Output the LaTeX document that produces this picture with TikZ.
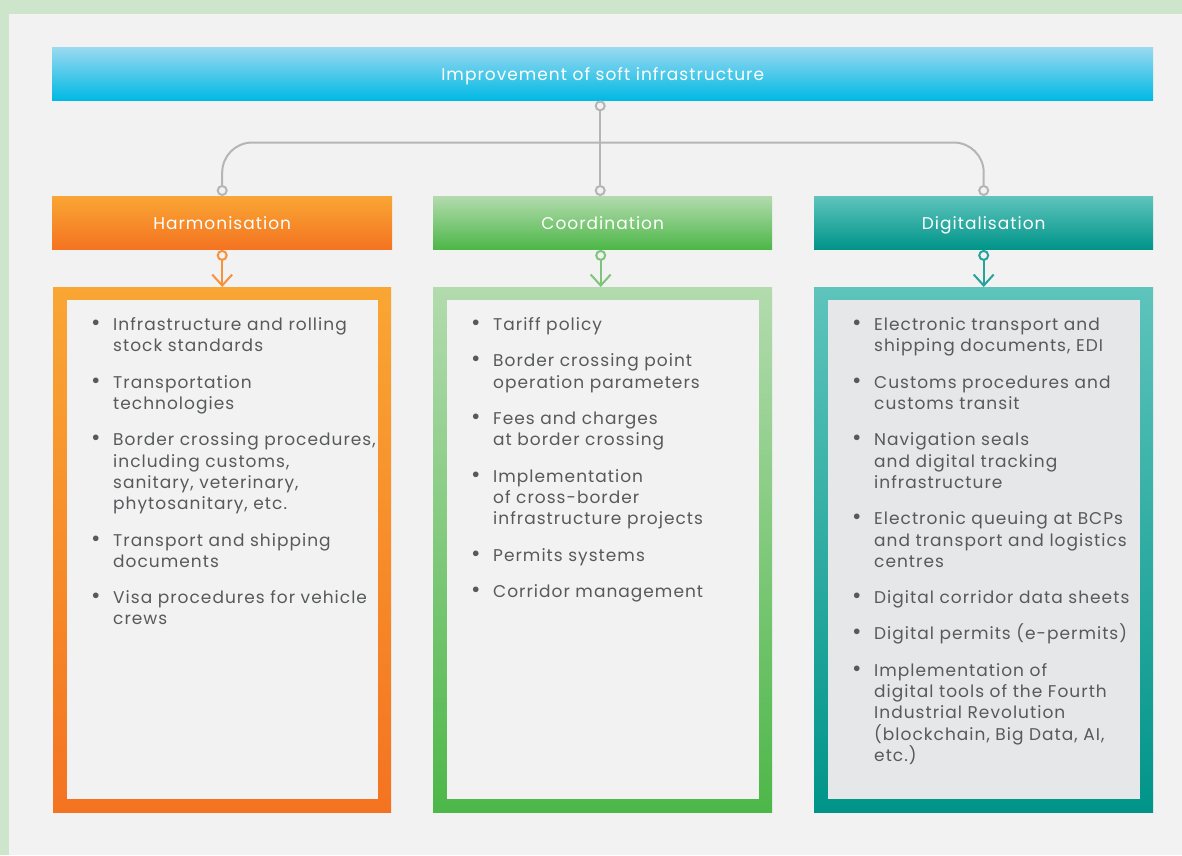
\documentclass[tikz,border=0pt]{standalone}
\usepackage{fontspec}
\setmainfont{Poppins}[LetterSpace=6]
\usetikzlibrary{calc,arrows.meta}
\definecolor{bandgreen}{HTML}{CDE6CB}
\definecolor{bg}{HTML}{F2F2F2}
\definecolor{tealin}{HTML}{E6E7E8}
\definecolor{blueA}{HTML}{9AD9F0}
\definecolor{blueB}{HTML}{00B9E4}
\definecolor{orA}{HTML}{F9A634}
\definecolor{orB}{HTML}{F47321}
\definecolor{grA}{HTML}{B3DBAE}
\definecolor{grB}{HTML}{4DB748}
\definecolor{teA}{HTML}{5EC4BC}
\definecolor{teB}{HTML}{009489}
\definecolor{cgray}{HTML}{B5B5B5}
\definecolor{orArrow}{HTML}{F7923A}
\definecolor{grArrow}{HTML}{7DC57A}
\definecolor{teArrow}{HTML}{23A39A}
\definecolor{txt}{HTML}{58595B}
\newcommand{\bl}{\makebox[22pt][l]{\scalebox{1.35}{\textbullet}}}
\newcommand{\ind}{\hspace*{22pt}}
\begin{document}
\begin{tikzpicture}[x=1pt,y=-1pt,
  bar/.style={anchor=north west, inner sep=0pt, text=white,
    text height=13.6pt, text depth=0pt,
    font={\fontsize{17}{20}\selectfont}},
  hdr/.style={bar, minimum height=53pt},
  frame/.style={anchor=north west, inner sep=0pt, minimum height=525pt},
  inbox/.style={inner sep=0pt, minimum height=499pt},
  listtext/.style={anchor=north west, inner sep=0pt, align=left, text=txt,
    font={\fontsize{17}{21.3}\selectfont}},
  conn/.style={draw=cgray, line width=2pt},
  ring/.style={line width=2pt, fill=bg},
  down/.style={line width=2pt, -{Straight Barb[length=11pt,width=20pt]}}
]
\useasboundingbox (0,0) rectangle (1182,855);
\fill[bandgreen] (0,0) rectangle (1182,855);
\fill[bg] (9,14) rectangle (1182,855);

% top bar
\node[bar, minimum width=1101pt, minimum height=53pt, top color=blueA, bottom color=blueB] (top) at (52,47) {Improvement of soft infrastructure};

% headers
\node[hdr, minimum width=340pt, top color=orA, bottom color=orB] (h1) at (52,196) {Harmonisation};
\node[hdr, minimum width=339pt, top color=grA, bottom color=grB] (h2) at (433,196) {Coordination};
\node[hdr, minimum width=339pt, top color=teA, bottom color=teB] (h3) at (814,196) {Digitalisation};

% frames
\node[frame, minimum width=338pt, top color=orA, bottom color=orB] (b1) at (53,287) {};
\node[frame, minimum width=339pt, top color=grA, bottom color=grB] (b2) at (433,287) {};
\node[frame, minimum width=339pt, top color=teA, bottom color=teB] (b3) at (814,287) {};
\node[inbox, minimum width=311pt, fill=bg] (i1) at (b1.center) {};
\node[inbox, minimum width=312pt, fill=bg] (i2) at (b2.center) {};
\node[inbox, minimum width=312pt, fill=tealin] (i3) at (b3.center) {};

% connectors from the top bar
\coordinate (tc) at ($(top.south)+(-2.5,5.5)$);
\coordinate (c1) at ($(h1.north)+(0,-5.5)$);
\coordinate (c2) at ($(h2.north)+(-2.5,-5.5)$);
\coordinate (c3) at ($(h3.north)+(0,-5.5)$);
\draw[conn] (tc) -- (c2);
\draw[conn, rounded corners=30pt] (c1) -- ++(0,-48) -| (c3);
\draw[conn, ring] (tc) circle (4.5pt);
\draw[conn, ring] (c2) circle (4.5pt);
\draw[conn, ring] (c1) circle (4.5pt);
\draw[conn, ring] (c3) circle (4.5pt);

% arrows to the frames
\coordinate (d1) at ($(h1.south)+(0,6)$);
\coordinate (d2) at ($(h2.south)+(-2,6)$);
\coordinate (d3) at ($(h3.south)+(0,6)$);
\draw[down, draw=orArrow] ($(d1)+(0,4.5)$) -- (d1 |- b1.north);
\draw[down, draw=grArrow] ($(d2)+(0,4.5)$) -- (d2 |- b2.north);
\draw[down, draw=teArrow] ($(d3)+(0,4.5)$) -- (d3 |- b3.north);
\draw[ring, draw=orArrow] (d1) circle (4.5pt);
\draw[ring, draw=grArrow] (d2) circle (4.5pt);
\draw[ring, draw=teArrow] (d3) circle (4.5pt);

% lists
\node[listtext] (t1) at (91,315.5) {\strut\bl Infrastructure and rolling\\
\ind stock standards\\[15pt]
\bl Transportation\\
\ind technologies\\[15pt]
\bl Border crossing procedures,\\
\ind including customs,\\
\ind sanitary, veterinary,\\
\ind phytosanitary, etc.\\[15pt]
\bl Transport and shipping\\
\ind documents\\[15pt]
\bl Visa procedures for vehicle\\
\ind crews};

\node[listtext] (t2) at (471,315.5) {\strut\bl Tariff policy\\[15pt]
\bl Border crossing point\\
\ind operation parameters\\[15pt]
\bl Fees and charges\\
\ind at border crossing\\[15pt]
\bl Implementation\\
\ind of cross-border\\
\ind infrastructure projects\\[15pt]
\bl Permits systems\\[15pt]
\bl Corridor management};

\node[listtext] (t3) at (852,315.5) {\strut\bl Electronic transport and\\
\ind shipping documents, EDI\\[15pt]
\bl Customs procedures and\\
\ind customs transit\\[15pt]
\bl Navigation seals\\
\ind and digital tracking\\
\ind infrastructure\\[15pt]
\bl Electronic queuing at BCPs\\
\ind and transport and logistics\\
\ind centres\\[15pt]
\bl Digital corridor data sheets\\[15pt]
\bl Digital permits (e-permits)\\[15pt]
\bl Implementation of\\
\ind digital tools of the Fourth\\
\ind Industrial Revolution\\
\ind (blockchain, Big Data, AI,\\
\ind etc.)};
\end{tikzpicture}
\end{document}
